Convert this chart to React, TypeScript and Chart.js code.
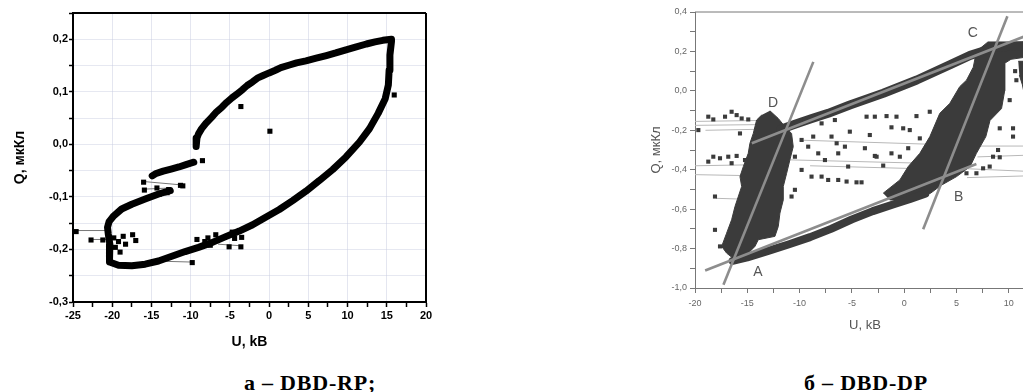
import React, { useEffect, useRef } from 'react';
import { Chart, registerables } from 'chart.js';

Chart.register(...registerables);

type P = [number, number];

// ---------- Left chart: а – DBD-RP ----------
const leftUpperBranch: P[] = [
  [15.6, 0.2], [14.5, 0.198], [13.5, 0.195], [12.4, 0.191], [11.0, 0.185], [9.8, 0.18], [8.5, 0.174],
  [7.3, 0.169], [6.0, 0.164], [4.7, 0.159], [3.5, 0.155], [2.6, 0.151], [1.5, 0.146], [0.8, 0.141],
  [0.0, 0.136], [-0.9, 0.13], [-1.5, 0.126], [-2.1, 0.119], [-2.8, 0.112], [-3.4, 0.104], [-4.0, 0.097],
  [-4.7, 0.089], [-5.4, 0.08], [-6.0, 0.071], [-6.7, 0.062], [-7.3, 0.052], [-8.0, 0.041], [-8.6, 0.03],
  [-9.0, 0.02], [-9.2, 0.012], [-9.3, 0.003], [-9.3, -0.004],
];
const leftMiddleSegment: P[] = [
  [-9.6, -0.034], [-10.5, -0.038], [-11.5, -0.043], [-12.5, -0.047], [-13.5, -0.051], [-14.5, -0.056], [-14.9, -0.06],
];
const leftLowerBranch: P[] = [
  [-12.6, -0.088], [-14.0, -0.094], [-15.8, -0.104], [-17.5, -0.114], [-18.8, -0.123], [-19.8, -0.136],
  [-20.4, -0.147], [-20.6, -0.158], [-20.5, -0.171], [-20.3, -0.19], [-20.3, -0.209], [-20.4, -0.224],
  [-19.2, -0.23], [-17.5, -0.231], [-15.8, -0.228], [-14.1, -0.222], [-12.4, -0.213], [-10.7, -0.204],
  [-9.0, -0.196], [-7.3, -0.187], [-5.6, -0.176], [-3.8, -0.165], [-2.1, -0.153], [-0.6, -0.14],
  [1.3, -0.124], [3.0, -0.107], [4.7, -0.089], [6.4, -0.069], [8.1, -0.048], [9.8, -0.024], [11.5, 0.004],
  [12.8, 0.03], [13.9, 0.059], [14.8, 0.087], [15.2, 0.113], [15.3, 0.141], [15.4, 0.17], [15.6, 0.196],
];
const leftScatter: P[] = [
  [0.1, 0.025], [15.95, 0.094], [-3.6, 0.072], [-8.5, -0.031], [-11.3, -0.078], [-11.0, -0.079],
  [-16.0, -0.072], [-15.9, -0.087], [-14.0, -0.095], [-13.0, -0.092], [-14.3, -0.083], [-12.8, -0.086],
  [-24.6, -0.166], [-22.7, -0.182], [-21.2, -0.182], [-18.6, -0.175], [-17.4, -0.172], [-17.0, -0.183],
  [-19.6, -0.196], [-19.2, -0.185], [-19.0, -0.205], [-18.3, -0.19], [-19.8, -0.178], [-9.8, -0.225],
  [-9.2, -0.181], [-8.2, -0.185], [-7.5, -0.192], [-6.6, -0.183], [-5.1, -0.195], [-4.4, -0.179],
  [-3.6, -0.195], [-3.5, -0.177], [-4.7, -0.167], [-6.8, -0.172], [-7.8, -0.178],
];
const leftThinLines: P[][] = [
  [[-24.6, -0.164], [-20.5, -0.164]],
  [[-22.7, -0.181], [-20.6, -0.181]],
  [[-15.8, -0.071], [-11.3, -0.077]],
  [[-15.6, -0.085], [-12.5, -0.083]],
  [[-14.8, -0.222], [-9.8, -0.224]],
  [[-6.5, -0.19], [-3.6, -0.193]],
];
const leftXTicks = [-25, -20, -15, -10, -5, 0, 5, 10, 15, 20];
const leftXTickLabels = ['-25', '-20', '-15', '-10', '-5', '0', '5', '10', '15', '20'];
const leftYTicks = [-0.3, -0.2, -0.1, 0, 0.1, 0.2];
const leftYTickLabels = ['-0,3', '-0,2', '-0,1', '0,0', '0,1', '0,2'];

// ---------- Right chart: б – DBD-DP ----------
const rightColumnAD: P[] = [
  [-13.63, -0.123], [-14.11, -0.148], [-14.43, -0.216], [-14.75, -0.266], [-14.91, -0.317], [-15.38, -0.384],
  [-15.7, -0.435], [-15.54, -0.485], [-16.18, -0.587], [-16.5, -0.654], [-16.98, -0.722], [-17.45, -0.789],
  [-16.98, -0.823], [-16.18, -0.857], [-15.22, -0.84], [-14.27, -0.789], [-13.95, -0.755], [-12.36, -0.738],
  [-12.04, -0.688], [-11.88, -0.62], [-11.56, -0.553], [-11.56, -0.485], [-11.24, -0.418], [-10.93, -0.35],
  [-10.61, -0.283], [-10.77, -0.216], [-11.4, -0.182], [-12.04, -0.14], [-12.84, -0.101],
];
const rightColumnBC: P[] = [
  [-2.01, -0.519], [-0.42, -0.452], [0.38, -0.384], [1.49, -0.317], [2.45, -0.232], [3.4, -0.114],
  [4.35, -0.064], [5.3, 0.021], [5.95, 0.054], [6.6, 0.12], [6.9, 0.2], [8.0, 0.248], [12.5, 0.248],
  [12.5, 0.19], [11.5, 0.17], [10.2, 0.16], [9.6, 0.14], [9.6, 0.0], [9.3, -0.09], [8.2, -0.15],
  [7.8, -0.232], [6.9, -0.317], [6.3, -0.384], [5.0, -0.435], [3.5, -0.48], [2.5, -0.52],
  [0.53, -0.553], [-1.38, -0.553],
];
const rightEdgeBlock: P[] = [
  [10.9, 0.15], [12.5, 0.15], [12.5, -0.05], [11.6, -0.05], [11.3, 0.03], [11.0, 0.08],
];
const rightUpperBand: P[] = [
  [-11.8, -0.195], [-10.45, -0.17], [-8.9, -0.142], [-7.27, -0.114], [-5.2, -0.072], [-2.0, -0.012],
  [1.2, 0.055], [4.4, 0.133], [6.3, 0.18], [8.8, 0.222], [12.5, 0.232],
];
const rightLowerBand: P[] = [
  [-16.4, -0.862], [-15.0, -0.845], [-13.0, -0.812], [-11.0, -0.778], [-9.0, -0.742], [-7.0, -0.7],
  [-5.0, -0.652], [-3.0, -0.61], [-1.0, -0.575], [0.5, -0.55], [2.0, -0.522],
];
const rightScatter: P[] = [
  [-19.68, -0.199], [-18.73, -0.131], [-18.25, -0.145], [-17.13, -0.131], [-16.5, -0.106], [-16.02, -0.123],
  [-15.54, -0.14], [-14.91, -0.145], [-15.7, -0.216], [-18.73, -0.359], [-18.25, -0.334], [-17.61, -0.342],
  [-16.82, -0.334], [-16.02, -0.33], [-15.22, -0.351], [-16.5, -0.367], [-18.09, -0.536], [-18.09, -0.705],
  [-17.61, -0.789], [-9.81, -0.249], [-9.18, -0.283], [-8.7, -0.232], [-8.22, -0.317], [-7.58, -0.351],
  [-6.95, -0.232], [-6.31, -0.317], [-5.67, -0.283], [-5.36, -0.384], [-7.9, -0.435], [-7.27, -0.452],
  [-6.31, -0.452], [-5.51, -0.46], [-10.45, -0.334], [-9.81, -0.401], [-8.86, -0.435], [-10.45, -0.502],
  [-10.77, -0.536], [-5.2, -0.207], [-6.63, -0.148], [-7.9, -0.165], [-9.49, -0.148], [-3.6, -0.131],
  [-2.81, -0.131], [-1.69, -0.128], [-0.74, -0.131], [1.17, -0.128], [2.44, -0.106], [-1.22, -0.185],
  [-0.1, -0.19], [0.53, -0.199], [1.49, -0.241], [-3.29, -0.224], [-3.76, -0.291], [-2.81, -0.33],
  [-2.01, -0.379], [-1.22, -0.317], [-0.42, -0.334], [0.38, -0.291], [-4.56, -0.464], [-4.08, -0.464],
  [-6.46, -0.266], [-2.64, -0.334], [9.13, -0.19], [10.4, -0.19], [10.4, -0.232], [8.49, -0.334],
  [9.13, -0.337], [8.17, -0.384], [7.54, -0.393], [6.9, -0.418], [5.95, -0.418],
  [10.72, 0.054], [10.08, -0.047], [10.6, 0.1], [8.97, -0.3],
];
const rightThinLines: P[][] = [
  [[-20, -0.155], [-13.5, -0.15]],
  [[-20, -0.175], [-12, -0.17]],
  [[-19, -0.2], [-14, -0.195]],
  [[-20, -0.38], [-14.5, -0.375]],
  [[-20, -0.425], [-15, -0.43]],
  [[-11, -0.35], [4, -0.37]],
  [[-9, -0.38], [5, -0.4]],
  [[-10, -0.25], [2, -0.27]],
  [[7, -0.28], [12.5, -0.28]],
  [[7, -0.335], [12.5, -0.325]],
  [[6, -0.395], [12.5, -0.41]],
  [[6, -0.44], [12.5, -0.43]],
  [[-18, -0.545], [-15, -0.55]],
];
const fitLineAD: P[] = [[-17.28, -0.983], [-8.69, 0.147]];
const fitLineAB: P[] = [[-19.03, -0.911], [6.9, -0.371]];
const fitLineBC: P[] = [[1.81, -0.702], [9.86, 0.378]];
const fitLineDC: P[] = [[-14.57, -0.266], [12.5, 0.297]];
const pointLabels = ['A', 'B', 'C', 'D'];
const pointLabelX = [-13.98, 5.21, 6.55, -12.55];
const pointLabelY = [-0.922, -0.538, 0.292, -0.062];
const rightXTicks = [-20, -15, -10, -5, 0, 5, 10];
const rightXTickLabels = ['-20', '-15', '-10', '-5', '0', '5', '10'];
const rightYTicks = [-1.0, -0.8, -0.6, -0.4, -0.2, 0, 0.2, 0.4];
const rightYTickLabels = ['-1,0', '-0,8', '-0,6', '-0,4', '-0,2', '0,0', '0,2', '0,4'];

// ---------- helpers ----------
const SANS = 'Liberation Sans, Arial, sans-serif';
const toXY = (arr: P[]) => arr.map(([x, y]) => ({ x, y }));
const labelFor = (vals: number[], labels: string[]) => (v: number) => {
  const i = vals.findIndex((t) => Math.abs(t - v) < 1e-6);
  return i >= 0 ? labels[i] : '';
};
const isMultiple = (v: number, step: number) => Math.abs(v / step - Math.round(v / step)) < 1e-6;

const framePlugin = (id: string, color: string, width: number, sides: string[]) => ({
  id,
  afterDatasetsDraw(chart: any) {
    const { ctx, chartArea: a } = chart;
    ctx.save();
    ctx.strokeStyle = color;
    ctx.lineWidth = width;
    ctx.beginPath();
    if (sides.includes('top')) { ctx.moveTo(a.left, a.top); ctx.lineTo(a.right, a.top); }
    if (sides.includes('right')) { ctx.moveTo(a.right, a.top); ctx.lineTo(a.right, a.bottom); }
    ctx.stroke();
    ctx.restore();
  },
});

const pointLabelPlugin = {
  id: 'pointLabels',
  afterDatasetsDraw(chart: any) {
    const { ctx, scales } = chart;
    ctx.save();
    ctx.fillStyle = '#555';
    ctx.font = `14px ${SANS}`;
    ctx.textAlign = 'center';
    ctx.textBaseline = 'middle';
    pointLabels.forEach((t, i) => {
      ctx.fillText(t, scales.x.getPixelForValue(pointLabelX[i]), scales.y.getPixelForValue(pointLabelY[i]));
    });
    ctx.restore();
  },
};

function LeftChart() {
  const ref = useRef<HTMLCanvasElement>(null);
  useEffect(() => {
    const band = (pts: P[]) => ({
      data: toXY(pts), borderColor: '#000', borderWidth: 7, pointRadius: 0,
      borderJoinStyle: 'round' as const, borderCapStyle: 'round' as const, fill: false,
    });
    const chart = new Chart(ref.current!, {
      type: 'line',
      data: {
        datasets: [
          {
            data: toXY(leftScatter), showLine: false, pointStyle: 'rect', pointRadius: 3.6,
            pointBackgroundColor: '#000', pointBorderWidth: 0, borderColor: '#000',
          } as any,
          band(leftUpperBranch),
          band(leftMiddleSegment),
          band(leftLowerBranch),
          ...leftThinLines.map((seg) => ({
            data: toXY(seg), borderColor: '#777', borderWidth: 1, pointRadius: 0, fill: false,
          })),
        ],
      },
      options: {
        animation: false,
        responsive: false,
        events: [],
        layout: { padding: { left: 0, top: 13, right: 24, bottom: 0 } },
        plugins: { legend: { display: false }, tooltip: { enabled: false } },
        scales: {
          x: {
            type: 'linear', min: -25, max: 20,
            ticks: {
              stepSize: 2.5, autoSkip: false, maxRotation: 0, minRotation: 0, padding: 2, color: '#000',
              font: { family: SANS, size: 11, weight: 'bold' },
              callback: (v: any) => labelFor(leftXTicks, leftXTickLabels)(Number(v)),
            },
            grid: {
              color: (c: any) => (c.tick && isMultiple(c.tick.value, 5) ? 'rgba(195,200,222,0.45)' : 'rgba(0,0,0,0)'),
              tickColor: '#000', tickLength: 5, tickWidth: 1.5,
            },
            border: { color: '#000', width: 2 },
            title: {
              display: true, text: 'U, kB', color: '#000', padding: { top: 0, bottom: 0 },
              font: { family: SANS, size: 14, weight: 'bold' },
            },
            afterFit: (s: any) => { s.height = 49; },
          },
          y: {
            type: 'linear', min: -0.3, max: 0.25,
            ticks: {
              stepSize: 0.05, autoSkip: false, padding: 1, color: '#000',
              font: { family: SANS, size: 11, weight: 'bold' },
              callback: (v: any) => labelFor(leftYTicks, leftYTickLabels)(Number(v)),
            },
            grid: {
              color: 'rgba(195,200,222,0.42)', tickColor: '#000', tickLength: 4, tickWidth: 1.5,
            },
            border: { color: '#000', width: 2 },
            title: {
              display: true, text: 'Q, мкКл', color: '#000', padding: { top: 12, bottom: 0 },
              font: { family: SANS, size: 14, weight: 'bold' },
            },
            afterFit: (s: any) => { s.width = 73; },
          },
        },
      } as any,
      plugins: [framePlugin('leftFrame', '#000', 2, ['top', 'right'])],
    });
    return () => chart.destroy();
  }, []);
  return (
    <canvas ref={ref} width={450} height={351}
      style={{ position: 'absolute', left: 0, top: 0, width: 450, height: 351 }} />
  );
}

function RightChart() {
  const ref = useRef<HTMLCanvasElement>(null);
  useEffect(() => {
    const DARK = '#3b3b3b';
    const poly = (pts: P[]) => ({
      data: toXY(pts), borderColor: DARK, backgroundColor: DARK, borderWidth: 1, pointRadius: 0, fill: 'shape',
    });
    const band = (pts: P[], w: number) => ({
      data: toXY(pts), borderColor: DARK, borderWidth: w, pointRadius: 0, fill: false,
      borderJoinStyle: 'round' as const, borderCapStyle: 'round' as const,
    });
    const fit = (pts: P[]) => ({
      data: toXY(pts), borderColor: '#8d8d8d', borderWidth: 2.6, pointRadius: 0, fill: false,
    });
    const chart = new Chart(ref.current!, {
      type: 'line',
      data: {
        datasets: [
          fit(fitLineAD), fit(fitLineAB), fit(fitLineBC), fit(fitLineDC),
          {
            data: toXY(rightScatter), showLine: false, pointStyle: 'rect', pointRadius: 2.9,
            pointBackgroundColor: DARK, pointBorderWidth: 0, borderColor: DARK,
          } as any,
          band(rightUpperBand, 9),
          band(rightLowerBand, 8),
          poly(rightColumnAD),
          poly(rightColumnBC),
          poly(rightEdgeBlock),
          ...rightThinLines.map((seg) => ({
            data: toXY(seg), borderColor: '#b8b8b8', borderWidth: 1, pointRadius: 0, fill: false,
          })),
        ] as any,
      },
      options: {
        animation: false,
        responsive: false,
        events: [],
        layout: { padding: { left: 0, top: 12, right: 10, bottom: 0 } },
        plugins: { legend: { display: false }, tooltip: { enabled: false } },
        scales: {
          x: {
            type: 'linear', min: -20, max: 12.5,
            ticks: {
              stepSize: 2.5, autoSkip: false, maxRotation: 0, minRotation: 0, padding: 5, color: '#666',
              font: { family: SANS, size: 9 },
              callback: (v: any) => labelFor(rightXTicks, rightXTickLabels)(Number(v)),
            },
            grid: { drawOnChartArea: false, tickColor: '#777', tickLength: 5, tickWidth: 1 },
            border: { color: '#777', width: 1 },
            title: {
              display: true, text: 'U, kB', color: '#555', padding: { top: 0, bottom: 0 },
              font: { family: SANS, size: 13 },
            },
            afterFit: (s: any) => { s.height = 45; },
          },
          y: {
            type: 'linear', min: -1.0, max: 0.4,
            ticks: {
              stepSize: 0.1, autoSkip: false, padding: 3, color: '#666',
              font: { family: SANS, size: 9 },
              callback: (v: any) => labelFor(rightYTicks, rightYTickLabels)(Number(v)),
            },
            grid: { drawOnChartArea: false, tickColor: '#777', tickLength: 5, tickWidth: 1 },
            border: { color: '#777', width: 1 },
            title: {
              display: true, text: 'Q, мкКл', color: '#555', padding: { top: 9, bottom: 0 },
              font: { family: SANS, size: 13 },
            },
            afterFit: (s: any) => { s.width = 55; },
          },
        },
      } as any,
      plugins: [framePlugin('rightFrame', '#777', 1, ['top']), pointLabelPlugin],
    });
    return () => chart.destroy();
  }, []);
  return (
    <canvas ref={ref} width={405} height={333}
      style={{ position: 'absolute', left: 640, top: 0, width: 405, height: 333 }} />
  );
}

const captionStyle: React.CSSProperties = {
  position: 'absolute', top: 372, width: 240, textAlign: 'center',
  fontFamily: 'Liberation Serif, Times New Roman, serif', fontWeight: 'bold', fontSize: 22,
  lineHeight: '22px', letterSpacing: 0.8, color: '#000', whiteSpace: 'nowrap',
};

export default function App() {
  return (
    <div style={{ position: 'absolute', left: 0, top: 0, width: 1023, height: 392, overflow: 'hidden', background: '#fff' }}>
      <LeftChart />
      <RightChart />
      <div style={{ ...captionStyle, left: 310 - 120 }}>а – DBD-RP;</div>
      <div style={{ ...captionStyle, left: 866 - 120 }}>б – DBD-DP</div>
    </div>
  );
}
